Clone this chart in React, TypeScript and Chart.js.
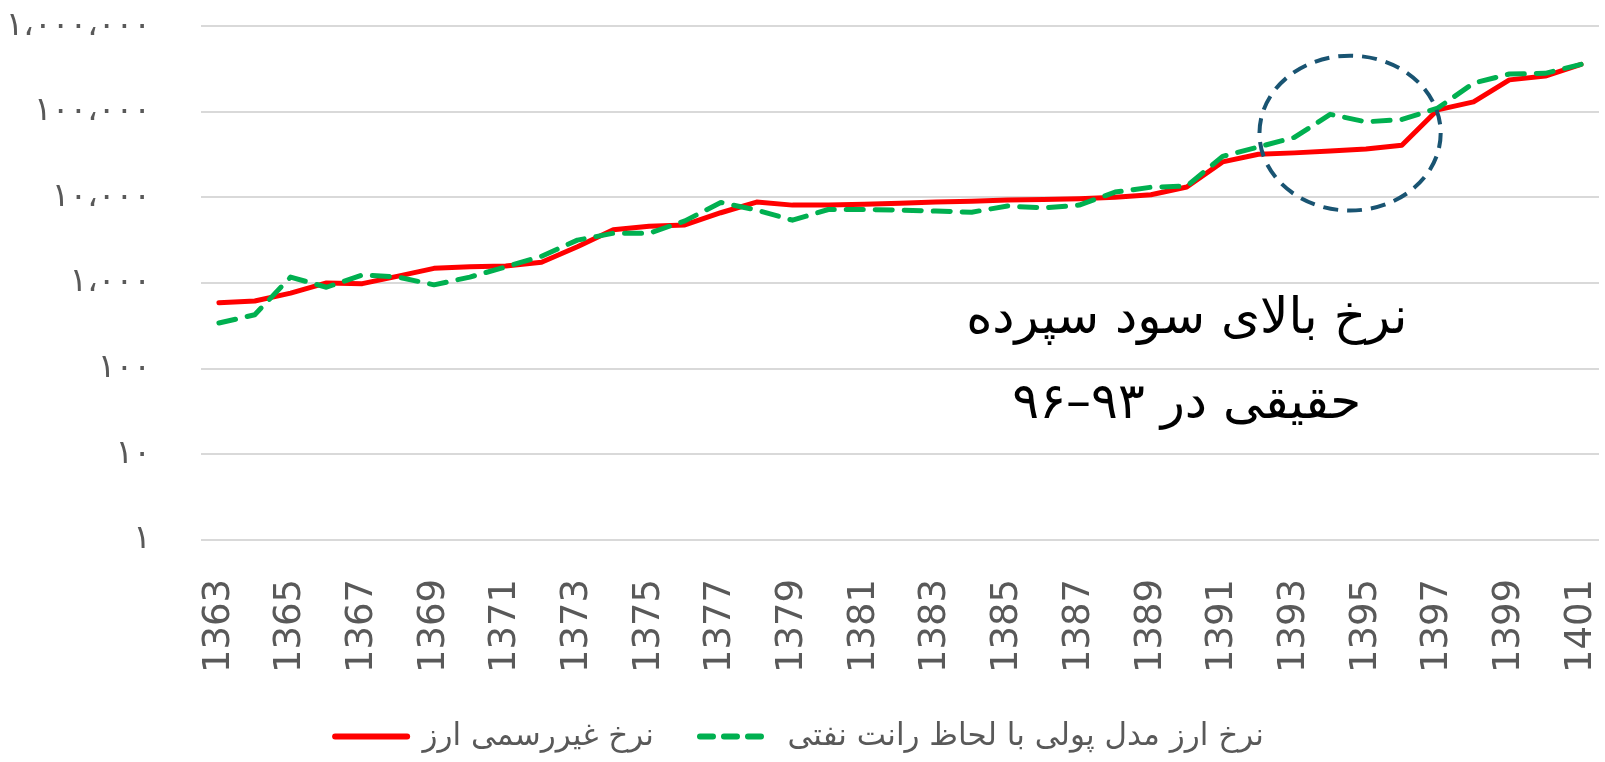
import React, { useEffect, useRef } from 'react';
import { Chart, registerables } from 'chart.js';

Chart.register(...registerables);

// Years (Solar Hijri)
const years = [
  '1363', '1364', '1365', '1366', '1367', '1368', '1369', '1370', '1371', '1372',
  '1373', '1374', '1375', '1376', '1377', '1378', '1379', '1380', '1381', '1382',
  '1383', '1384', '1385', '1386', '1387', '1388', '1389', '1390', '1391', '1392',
  '1393', '1394', '1395', '1396', '1397', '1398', '1399', '1400', '1401',
];

// نرخ غیررسمی ارز (red, solid)
const informalRate = [
  585, 615, 760, 1000, 980, 1200, 1480, 1540, 1580, 1740,
  2640, 4170, 4600, 4750, 6600, 8800, 8100, 8100, 8300, 8500,
  8800, 9000, 9300, 9400, 9600, 10000, 10700, 13200, 25900, 31800,
  33000, 34700, 36600, 40600, 105000, 130000, 235000, 260000, 357000,
];

// نرخ ارز مدل پولی با لحاظ رانت نفتی (green, dashed)
const monetaryModelRate = [
  340, 425, 1170, 890, 1240, 1170, 950, 1170, 1540, 2050,
  3160, 3800, 3800, 5300, 8700, 7100, 5400, 7200, 7200, 7100,
  6900, 6700, 7900, 7500, 8100, 11500, 13100, 13500, 30000, 38700,
  50000, 93000, 76000, 81000, 110000, 215000, 275000, 280000, 357000,
];

const seriesNames = ['نرخ ارز مدل پولی با لحاظ رانت نفتی', 'نرخ غیررسمی ارز'];

const yTickValues = [1, 10, 100, 1000, 10000, 100000, 1000000];
const yTickLabels = ['۱', '۱۰', '۱۰۰', '۱،۰۰۰', '۱۰،۰۰۰', '۱۰۰،۰۰۰', '۱،۰۰۰،۰۰۰'];

// Annotation
const noteLines = ['نرخ بالای سود سپرده', 'حقیقی در ۹۳–۹۶'];
const noteCenterYear = '1390';
const noteLineValues = [370, 38];
const ellipseYears = ['1392', '1397'];
const ellipseValues = [450000, 7000];

const FONT = "'DejaVu Sans', sans-serif";

const annotationPlugin = {
  id: 'noteAnnotation',
  afterDatasetsDraw(chart: any) {
    const { ctx, scales } = chart;
    const x = scales.x;
    const y = scales.y;
    const x0 = x.getPixelForValue(years.indexOf(ellipseYears[0]));
    const x1 = x.getPixelForValue(years.indexOf(ellipseYears[1]));
    const y0 = y.getPixelForValue(ellipseValues[0]);
    const y1 = y.getPixelForValue(ellipseValues[1]);
    ctx.save();
    ctx.beginPath();
    ctx.ellipse((x0 + x1) / 2 + 2, (y0 + y1) / 2, Math.abs(x1 - x0) / 2 + 1, Math.abs(y1 - y0) / 2, 0, 0, Math.PI * 2);
    ctx.strokeStyle = '#195472';
    ctx.lineWidth = 4;
    ctx.setLineDash([15, 9]);
    ctx.stroke();
    ctx.restore();

    ctx.save();
    ctx.fillStyle = '#000000';
    ctx.font = `50px ${FONT}`;
    ctx.textAlign = 'center';
    ctx.textBaseline = 'middle';
    ctx.direction = 'rtl';
    const cx = x.getPixelForValue(years.indexOf(noteCenterYear));
    noteLines.forEach((line, i) => {
      ctx.fillText(line, cx, y.getPixelForValue(noteLineValues[i]));
    });
    ctx.restore();
  },
};

export default function App() {
  const ref = useRef<HTMLCanvasElement>(null);

  useEffect(() => {
    document.body.style.margin = '0';
    const chart = new Chart(ref.current as HTMLCanvasElement, {
      type: 'line',
      data: {
        labels: years,
        datasets: [
          {
            label: seriesNames[0],
            data: monetaryModelRate,
            borderColor: '#00b050',
            backgroundColor: '#00b050',
            borderWidth: 5,
            borderDash: [17, 12],
            borderCapStyle: 'round',
            borderJoinStyle: 'round',
            pointRadius: 0,
            tension: 0,
          },
          {
            label: seriesNames[1],
            data: informalRate,
            borderColor: '#ff0000',
            backgroundColor: '#ff0000',
            borderWidth: 5,
            borderCapStyle: 'round',
            borderJoinStyle: 'round',
            pointRadius: 0,
            tension: 0,
          },
        ],
      },
      options: {
        animation: false,
        responsive: true,
        maintainAspectRatio: false,
        layout: { padding: { top: 26, right: 6, left: 0, bottom: 0 } },
        scales: {
          x: {
            offset: true,
            grid: { display: false },
            border: { display: false },
            afterFit: (s: any) => {
              s.paddingLeft = 0;
              s.paddingRight = 0;
              s.height -= 29;
            },
            ticks: {
              autoSkip: false,
              minRotation: 90,
              maxRotation: 90,
              padding: 31,
              color: '#595959',
              font: { family: FONT, size: 37 },
              callback: (_v: any, i: number) => (i % 2 === 0 ? years[i] : ''),
            },
          },
          y: {
            type: 'logarithmic',
            min: 1,
            max: 1000000,
            afterBuildTicks: (s: any) => {
              s.ticks = yTickValues.map((v) => ({ value: v }));
            },
            afterFit: (s: any) => {
              s.width = 201;
              s.paddingTop = 0;
              s.paddingBottom = 0;
            },
            grid: { color: '#d9d9d9', lineWidth: 2, drawTicks: false },
            border: { display: false },
            ticks: {
              padding: 50,
              color: '#595959',
              font: { family: FONT, size: 33 },
              callback: (v: any) => {
                const idx = yTickValues.indexOf(Number(v));
                return idx >= 0 ? yTickLabels[idx] : '';
              },
            },
          },
        },
        plugins: {
          tooltip: { enabled: false },
          legend: {
            position: 'bottom',
            labels: {
              usePointStyle: true,
              pointStyle: 'line',
              pointStyleWidth: 72,
              boxHeight: 31,
              color: '#595959',
              font: { family: FONT, size: 31 },
              padding: 46,
              generateLabels: (chart: any) =>
                chart.data.datasets
                  .map((ds: any, i: number) => ({
                    text: ds.label,
                    fillStyle: ds.borderColor,
                    strokeStyle: ds.borderColor,
                    fontColor: '#595959',
                    lineWidth: 6,
                    lineDash: ds.borderDash ? [13, 11] : [],
                    lineCap: 'round',
                    pointStyle: 'line',
                    hidden: false,
                    datasetIndex: i,
                  }))
                  .reverse(),
            },
          },
        },
      },
      plugins: [annotationPlugin],
    });
    return () => chart.destroy();
  }, []);

  return (
    <div style={{ width: '1605px', height: '762px', position: 'relative' }}>
      <canvas ref={ref} />
    </div>
  );
}
